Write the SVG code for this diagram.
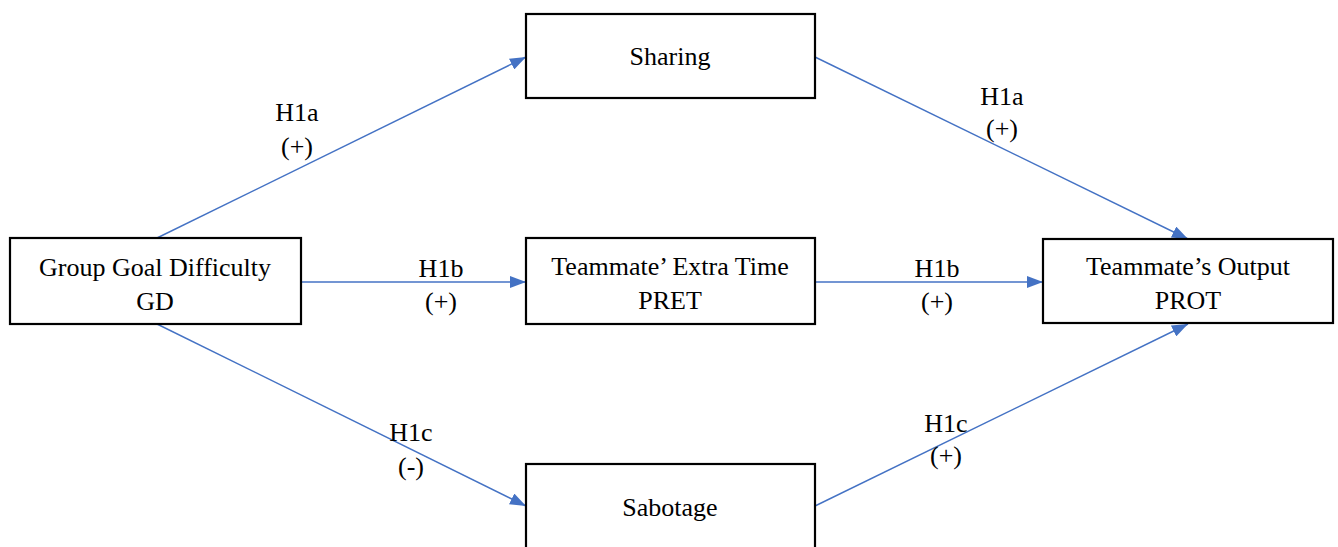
<svg xmlns="http://www.w3.org/2000/svg" width="1338" height="547" viewBox="0 0 1338 547">
<defs>
<marker id="arr" viewBox="0 0 16 12" refX="16" refY="6" markerWidth="16" markerHeight="12" markerUnits="userSpaceOnUse" orient="auto">
<path d="M0,0 L16,6 L0,12 Z" fill="#4472C4"/>
</marker>
<style>
.box{fill:#fff;stroke:#000;stroke-width:2.2}
.t{font-family:"Liberation Serif","Times New Roman",serif;font-size:26px;fill:#000;text-anchor:middle}
.c{stroke:#4472C4;stroke-width:1.4;fill:none;marker-end:url(#arr)}
</style>
</defs>
<rect width="1338" height="547" fill="#fff"/>
<g id="connectors">
<line class="c" x1="157" y1="238" x2="526" y2="57"/>
<line class="c" x1="301" y1="282" x2="526" y2="282"/>
<line class="c" x1="157" y1="324" x2="526" y2="506"/>
<line class="c" x1="815" y1="57" x2="1188" y2="239"/>
<line class="c" x1="815" y1="282" x2="1043" y2="282"/>
<line class="c" x1="815" y1="506" x2="1188" y2="324"/>
</g>
<g id="labels">
<text class="t" x="297" y="121">H1a</text>
<text class="t" x="297" y="155">(+)</text>
<text class="t" x="441" y="277">H1b</text>
<text class="t" x="441" y="310">(+)</text>
<text class="t" x="411" y="441">H1c</text>
<text class="t" x="411" y="475">(-)</text>
<text class="t" x="1002" y="105">H1a</text>
<text class="t" x="1002" y="137">(+)</text>
<text class="t" x="937" y="277">H1b</text>
<text class="t" x="937" y="310">(+)</text>
<text class="t" x="946" y="432">H1c</text>
<text class="t" x="946" y="464">(+)</text>
</g>
<g id="node-gd">
<rect class="box" x="10" y="238" width="291" height="86"/>
<text class="t" x="155" y="276">Group Goal Difficulty</text>
<text class="t" x="155" y="310">GD</text>
</g>
<g id="node-sharing">
<rect class="box" x="526" y="14" width="289" height="84"/>
<text class="t" x="670" y="65">Sharing</text>
</g>
<g id="node-pret">
<rect class="box" x="526" y="238" width="289" height="86"/>
<text class="t" x="670" y="275">Teammate’ Extra Time</text>
<text class="t" x="670" y="309">PRET</text>
</g>
<g id="node-sabotage">
<rect class="box" x="526" y="464" width="289" height="100"/>
<text class="t" x="670" y="516">Sabotage</text>
</g>
<g id="node-prot">
<rect class="box" x="1043" y="239" width="290" height="84"/>
<text class="t" x="1188" y="275">Teammate’s Output</text>
<text class="t" x="1188" y="309">PROT</text>
</g>
</svg>
